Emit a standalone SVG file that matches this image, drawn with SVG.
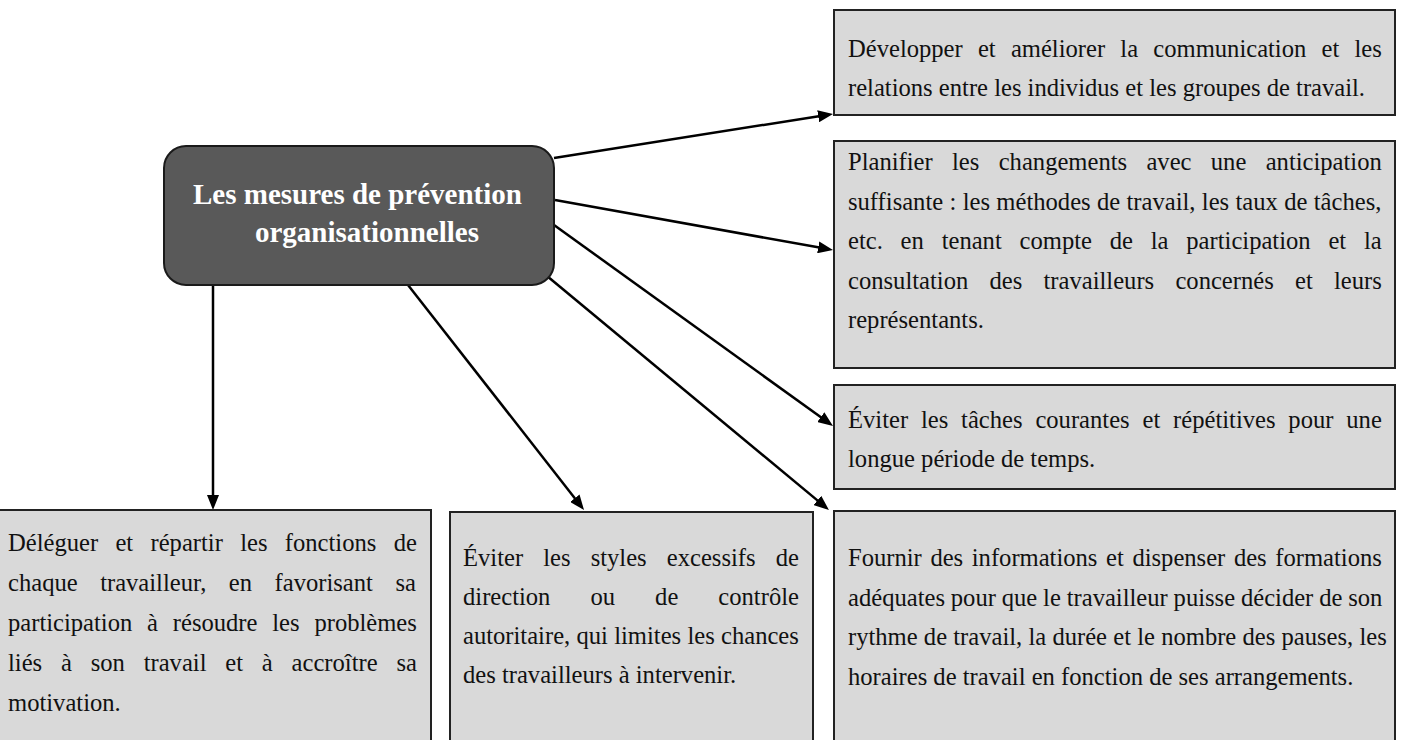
<svg xmlns="http://www.w3.org/2000/svg" width="1403" height="740" viewBox="0 0 1403 740">
<style>
.box{fill:#d9d9d9;stroke:#222;stroke-width:2}
.t{font-family:"Liberation Serif","Times New Roman",serif;font-size:24.6px;fill:#111}
.title{font-family:"Liberation Serif","Times New Roman",serif;font-size:29px;font-weight:bold;fill:#fff}
.c{stroke:#000;stroke-width:2.5;fill:none;marker-end:url(#ah)}
</style>
<defs>
<marker id="ah" markerUnits="userSpaceOnUse" markerWidth="15" markerHeight="12" refX="7" refY="6" orient="auto">
<path d="M0,0 L15,6 L0,12 z" fill="#000"/>
</marker>
</defs>
<rect width="1403" height="740" fill="#fff"/>
<g id="connectors">
<line class="c" x1="554" y1="158" x2="825.1" y2="115.2"/>
<line class="c" x1="555" y1="200" x2="825.1" y2="248.6"/>
<line class="c" x1="554" y1="225" x2="826.5" y2="421.3"/>
<line class="c" x1="547" y1="276" x2="822.8" y2="504.9"/>
<line class="c" x1="408" y1="285" x2="579.1" y2="503.7"/>
<line class="c" x1="213" y1="285" x2="213" y2="502"/>
</g>
<g id="center">
<rect x="164" y="146" width="390" height="139" rx="22" ry="22" fill="#595959" stroke="#1a1a1a" stroke-width="2"/>
<text class="title" x="193" y="204">Les mesures de prévention</text>
<text class="title" x="255" y="242">organisationnelles</text>
</g>
<g id="boxA">
<rect class="box" x="834" y="10" width="561" height="105"/>
<text class="t" x="848" y="57" word-spacing="9.07">Développer et améliorer la communication et les</text>
<text class="t" x="848" y="96">relations entre les individus et les groupes de travail.</text>
</g>
<g id="boxB">
<rect class="box" x="834" y="141" width="561" height="227"/>
<text class="t" x="848" y="170" word-spacing="13.2">Planifier les changements avec une anticipation</text>
<text class="t" x="848" y="209.5" word-spacing="0.2">suffisante : les méthodes de travail, les taux de tâches,</text>
<text class="t" x="848" y="249" word-spacing="11.66">etc. en tenant compte de la participation et la</text>
<text class="t" x="848" y="288.5" word-spacing="15.12">consultation des travailleurs concernés et leurs</text>
<text class="t" x="848" y="328">représentants.</text>
</g>
<g id="boxC">
<rect class="box" x="834" y="385" width="561" height="104"/>
<text class="t" x="848" y="428" word-spacing="6.7">Éviter les tâches courantes et répétitives pour une</text>
<text class="t" x="848" y="467">longue période de temps.</text>
</g>
<g id="boxD">
<rect class="box" x="834" y="511" width="561" height="240"/>
<text class="t" x="848" y="566" word-spacing="2.45">Fournir des informations et dispenser des formations</text>
<text class="t" x="848" y="605.5" word-spacing="-0.3">adéquates pour que le travailleur puisse décider de son</text>
<text class="t" x="848" y="645" word-spacing="0.06">rythme de travail, la durée et le nombre des pauses, les</text>
<text class="t" x="848" y="684.5">horaires de travail en fonction de ses arrangements.</text>
</g>
<g id="boxE">
<rect class="box" x="-6" y="510" width="437" height="240"/>
<text class="t" x="8" y="551" word-spacing="11.16">Déléguer et répartir les fonctions de</text>
<text class="t" x="8" y="591" word-spacing="16.35">chaque travailleur, en favorisant sa</text>
<text class="t" x="8" y="631" word-spacing="8.65">participation à résoudre les problèmes</text>
<text class="t" x="8" y="671" word-spacing="12.66">liés à son travail et à accroître sa</text>
<text class="t" x="8" y="711">motivation.</text>
</g>
<g id="boxF">
<rect class="box" x="450" y="512" width="363" height="240"/>
<text class="t" x="463" y="566" word-spacing="13.97">Éviter les styles excessifs de</text>
<text class="t" x="463" y="605" word-spacing="33.9">direction ou de contrôle</text>
<text class="t" x="463" y="644" word-spacing="0.13">autoritaire, qui limites les chances</text>
<text class="t" x="463" y="683">des travailleurs à intervenir.</text>
</g>
</svg>
